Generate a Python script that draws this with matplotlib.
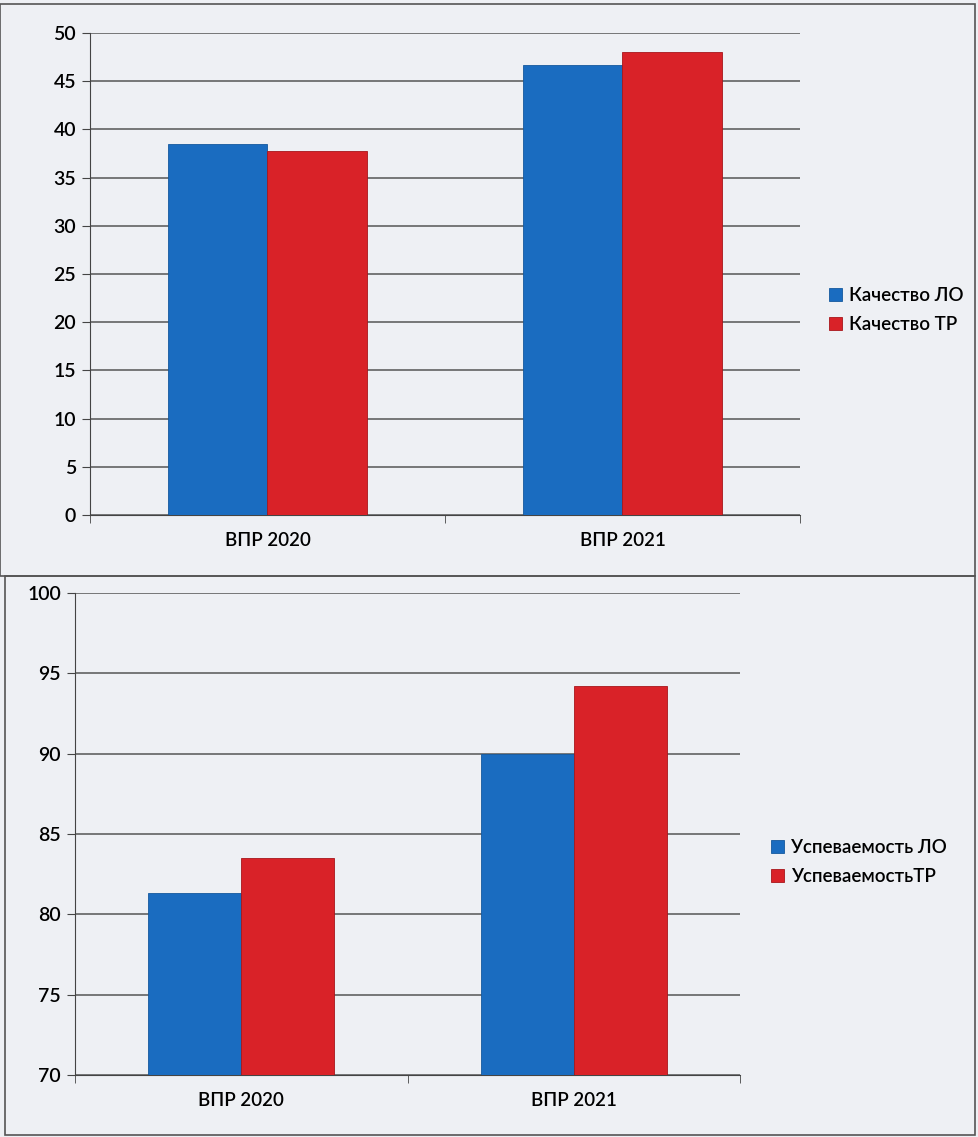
import matplotlib.pyplot as plt
import numpy as np
from matplotlib.patches import Rectangle

# --- data ---
categories = ['ВПР 2020', 'ВПР 2021']
quality_lo = [38.5, 46.7]
quality_tr = [37.8, 48.0]
success_lo = [81.3, 90.0]
success_tr = [83.5, 94.2]
quality_labels = ['Качество ЛО', 'Качество ТР']
success_labels = ['Успеваемость ЛО', 'УспеваемостьТР']

plt.rcParams['font.family'] = ['Lato', 'DejaVu Sans']

W, H = 979, 1137
fig = plt.figure(figsize=(W / 100, H / 100), dpi=100)
fig.patch.set_facecolor('#eef0f4')

blue = '#1a6cc0'
red = '#d92228'


def px_axes(x0, y0, x1, y1):
    # pixel box (top-left origin) -> figure axes
    return fig.add_axes([x0 / W, 1 - y1 / H, (x1 - x0) / W, (y1 - y0) / H])


def draw_panel(ax, lo, tr, labels, ylim, step):
    x = np.arange(len(categories))
    w = 0.28
    ax.bar(x - w / 2, lo, w, color=blue, label=labels[0], zorder=3,
           edgecolor='#15599e', linewidth=0.6)
    ax.bar(x + w / 2, tr, w, color=red, label=labels[1], zorder=3,
           edgecolor='#a8161b', linewidth=0.6)
    ax.set_xlim(-0.5, len(categories) - 0.5)
    ax.set_ylim(*ylim)
    ax.set_yticks(np.arange(ylim[0], ylim[1] + 0.1, step))
    ax.set_facecolor('none')
    ax.grid(axis='y', color='#555555', linewidth=1.1, zorder=0)
    for s in ['top', 'right']:
        ax.spines[s].set_visible(False)
    ax.spines['left'].set_color('#444444')
    ax.spines['bottom'].set_color('#444444')
    ax.set_xticks(x)
    ax.set_xticklabels(categories, fontsize=13.5, fontweight='semibold')
    ax.set_xticks(np.arange(-0.5, len(categories)), minor=True)
    ax.tick_params(axis='x', which='major', length=0, pad=12)
    ax.tick_params(axis='x', which='minor', length=6, color='#444444')
    ax.tick_params(axis='y', length=6, color='#444444', labelsize=14, pad=4)
    for t in ax.get_yticklabels():
        t.set_fontweight('semibold')


legend_kw = dict(bbox_transform=fig.transFigure, frameon=False,
                 prop={'size': 13.5, 'weight': 'semibold'},
                 handlelength=0.7, handleheight=0.7, handletextpad=0.4,
                 labelspacing=0.6, loc='center left')

# top panel: quality
ax1 = px_axes(90, 33, 800, 515)
draw_panel(ax1, quality_lo, quality_tr, quality_labels, (0, 50), 5)
ax1.legend(bbox_to_anchor=(812 / W, 1 - 310 / H), **legend_kw)

# bottom panel: success rate
ax2 = px_axes(75, 593, 740, 1075)
draw_panel(ax2, success_lo, success_tr, success_labels, (70, 100), 5)
ax2.legend(bbox_to_anchor=(754 / W, 1 - 862 / H), **legend_kw)

# chart frames
fig.add_artist(Rectangle((0 / W, 1 - 576 / H), 975 / W, 572 / H,
                         transform=fig.transFigure, fill=False,
                         edgecolor='#555555', linewidth=1.2))
fig.add_artist(Rectangle((5 / W, 1 - 1135 / H), 970 / W, 559 / H,
                         transform=fig.transFigure, fill=False,
                         edgecolor='#555555', linewidth=1.2))

fig.savefig('out.png', dpi=100, facecolor=fig.get_facecolor())
